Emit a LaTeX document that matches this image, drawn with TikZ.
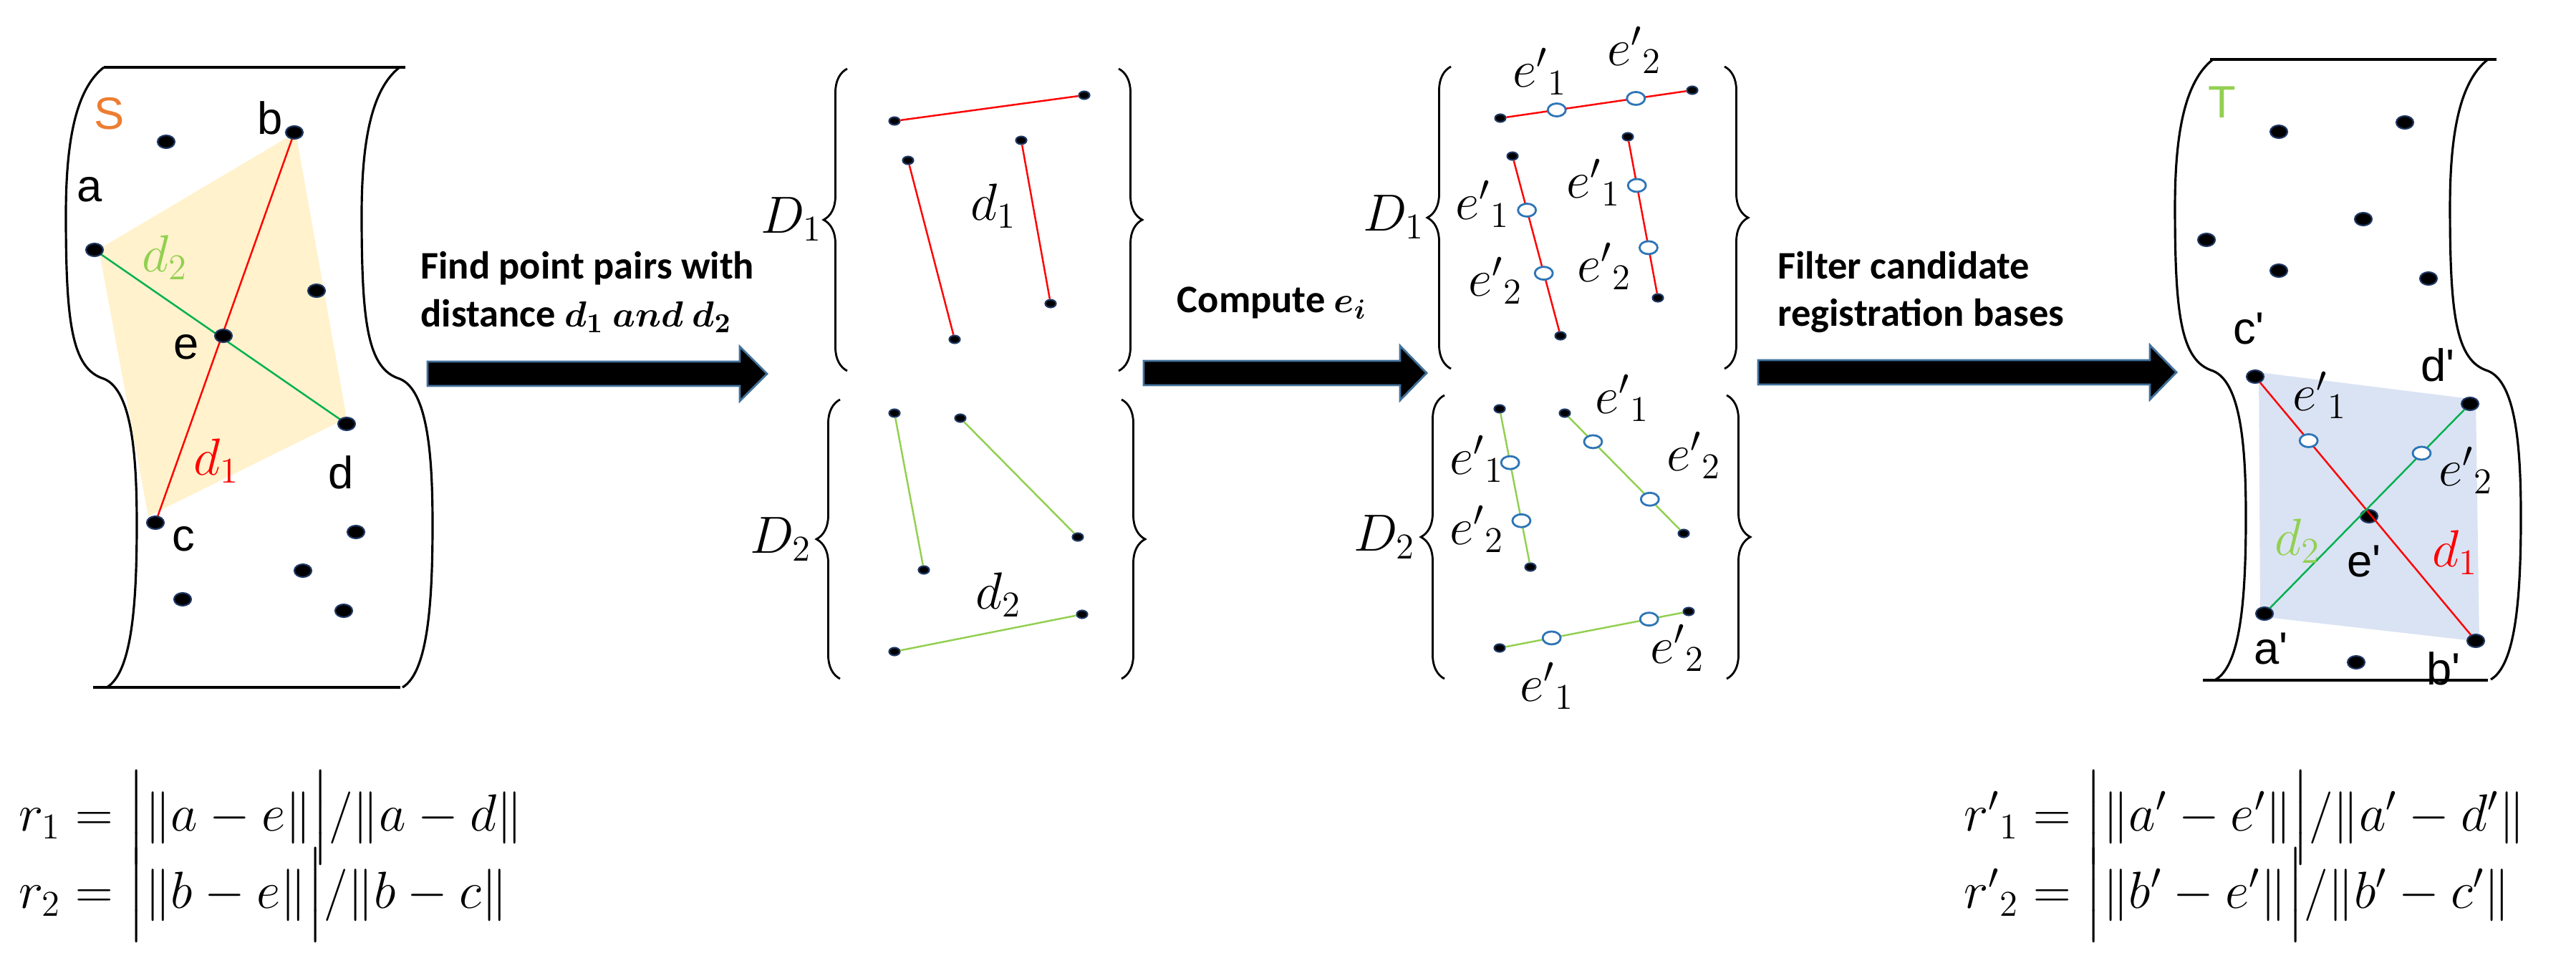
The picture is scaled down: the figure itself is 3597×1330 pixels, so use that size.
\documentclass[tikz,border=0pt]{standalone}
\usepackage{amsmath}
\usepackage{fontspec}
\setmainfont{Carlito}
\newfontfamily\lblfont{Liberation Sans}
\usetikzlibrary{shapes.geometric,decorations.pathreplacing,backgrounds}
\definecolor{dotblue}{RGB}{31,56,100}
\definecolor{ringblue}{RGB}{46,117,182}
\definecolor{arrowblue}{RGB}{65,113,156}
\definecolor{sfill}{RGB}{255,242,204}
\definecolor{tfill}{RGB}{218,227,243}
\definecolor{lgreen}{RGB}{146,208,80}
\definecolor{dgreen}{RGB}{0,176,80}
\definecolor{sorange}{RGB}{237,125,49}
\newcommand{\sheetedge}{(145,94) .. controls (105,125) and (92,200) .. (92,300) .. controls (92,450) and (100,515) .. (145,529) .. controls (185,545) and (191,640) .. (191,733) .. controls (191,850) and (183,940) .. (149,960)}
\newcommand{\fatarrow}[4]{\draw[fat] (#1,#4-17) -- (#2,#4-17) -- (#2,#4-38) -- (#3,#4) -- (#2,#4+38) -- (#2,#4+17) -- (#1,#4+17) -- cycle;}

\begin{document}
\begin{tikzpicture}[x=0.01cm,y=-0.01cm,
  pt/.style={ellipse,fill=black,draw=dotblue,line width=0.6pt,inner sep=0pt,minimum width=0.24cm,minimum height=0.18cm},
  spt/.style={pt,minimum width=0.15cm,minimum height=0.11cm},
  ring/.style={ellipse,fill=white,draw=ringblue,line width=0.8pt,inner sep=0pt,minimum width=0.25cm,minimum height=0.18cm},
  lbl/.style={font=\lblfont\fontsize{18}{18}\selectfont},
  mlbl/.style={font=\fontsize{21}{21}\selectfont},
  flbl/.style={font=\fontsize{20}{20}\selectfont},
  steptext/.style={font=\bfseries\fontsize{15.5}{19}\selectfont,align=left},
  fat/.style={fill=black,draw=arrowblue,line width=0.8pt},
  sheet/.style={line width=0.9pt},
  brc/.style={decorate,decoration={brace,amplitude=0.33cm},line width=0.8pt},
  redl/.style={red,line width=0.7pt},
  grnl/.style={lgreen,line width=0.7pt}]
\useasboundingbox (0,0) rectangle (3597,1330);
% source sheet S
\draw[sheet] (130,960) -- (559,960);
\draw[sheet] (145,94) -- (566,94);
\draw[sheet] \sheetedge;
\begin{scope}[shift={(413,0)}]
\draw[sheet] \sheetedge;
\end{scope}
\node (a) at (132,349) [pt] {};
\node (b) at (411,185) [pt] {};
\node (c) at (217,730) [pt] {};
\node (d) at (484,592) [pt] {};
\node (e) at (312,469) [pt] {};
\node (s1) at (232,198) [pt] {};
\node (s2) at (442,406) [pt] {};
\node (s3) at (497,743) [pt] {};
\node (s4) at (423,797) [pt] {};
\node (s5) at (255,837) [pt] {};
\node (s6) at (480,853) [pt] {};
\begin{scope}[on background layer]
\fill[sfill] (138,348) -- (413,185) -- (484,584) -- (207,721) -- cycle;
\draw[redl] (b.center) -- (c.center);
\draw[dgreen,line width=0.7pt] (a.center) -- (d.center);
\end{scope}
\node[lbl,sorange] at (153,159) {S};
\node[lbl] at (125,265) {a};
\node[lbl] at (377,165) {b};
\node[lbl] at (260,485) {e};
\node[lbl] at (476,660) {d};
\node[lbl] at (256,753) {c};
\node[mlbl,lgreen] at (230,360) {$d_2$};
\node[mlbl,red] at (302,644) {$d_1$};
%%
\fatarrow{597}{1033}{1071}{522}
\node[steptext,anchor=west] (find) at (575,408) {Find point pairs with\\distance $\boldsymbol{d_1}$ $\boldsymbol{and}$ $\boldsymbol{d_2}$};
%% pairs with distance d1 and d2
\draw[brc] (1183,518) -- (1183,96);
\draw[brc] (1562,96) -- (1562,518);
\draw[brc] (1173,948) -- (1173,558);
\draw[brc] (1566,558) -- (1566,948);
\node[mlbl] (D1) at (1105,306) {$D_1$};
\node[mlbl] (D2) at (1090,753) {$D_2$};
\node (p1) at (1249,169) [spt] {};
\node (q1) at (1514,133) [spt] {};
\node (p2) at (1268,224) [spt] {};
\node (q2) at (1333,474) [spt] {};
\node (p3) at (1426,196) [spt] {};
\node (q3) at (1467,424) [spt] {};
\node (p4) at (1249,577) [spt] {};
\node (q4) at (1290,796) [spt] {};
\node (p5) at (1341,584) [spt] {};
\node (q5) at (1505,750) [spt] {};
\node (p6) at (1249,910) [spt] {};
\node (q6) at (1511,858) [spt] {};
\draw[redl] (p1) -- (q1);
\draw[redl] (p2) -- (q2);
\draw[redl] (p3) -- (q3);
\draw[grnl] (p4) -- (q4);
\draw[grnl] (p5) -- (q5);
\draw[grnl] (p6) -- (q6);
\node[mlbl] at (1387,288) {$d_1$};
\node[mlbl] at (1394,831) {$d_2$};
%%
\fatarrow{1597}{1955}{1992}{521}
\node[steptext] (comp) at (1776,423) {Compute $\boldsymbol{e_i}$};
%% pairs with points e'
\draw[brc] (2026,515) -- (2026,93);
\draw[brc] (2408,93) -- (2408,515);
\draw[brc] (2017,948) -- (2017,552);
\draw[brc] (2411,552) -- (2411,948);
\node[mlbl] (E1) at (1946,303) {$D_1$};
\node[mlbl] (E2) at (1933,750) {$D_2$};
\node (u1) at (2095,165) [spt] {};
\node (v1) at (2363,126) [spt] {};
\node (u2) at (2112,218) [spt] {};
\node (v2) at (2179,469) [spt] {};
\node (u3) at (2273,191) [spt] {};
\node (v3) at (2315,416) [spt] {};
\node (u4) at (2094,571) [spt] {};
\node (v4) at (2137,792) [spt] {};
\node (u5) at (2185,577) [spt] {};
\node (v5) at (2351,745) [spt] {};
\node (u6) at (2094,905) [spt] {};
\node (v6) at (2358,854) [spt] {};
\draw[redl] (u1) -- (v1) node[ring,pos=0.28] {} node[ring,pos=0.72] {};
\draw[redl] (u2) -- (v2) node[ring,pos=0.29] {} node[ring,pos=0.66] {};
\draw[redl] (u3) -- (v3) node[ring,pos=0.29] {} node[ring,pos=0.70] {};
\draw[grnl] (u4) -- (v4) node[ring,pos=0.33] {} node[ring,pos=0.72] {};
\draw[grnl] (u5) -- (v5) node[ring,pos=0.22] {} node[ring,pos=0.73] {};
\draw[grnl] (u6) -- (v6) node[ring,pos=0.26] {} node[ring,pos=0.81] {};
\node[mlbl] at (2150,100) {${e'}_1$};
\node[mlbl] at (2282,70) {${e'}_2$};
\node[mlbl] at (2070,285) {${e'}_1$};
\node[mlbl] at (2088,392) {${e'}_2$};
\node[mlbl] at (2225,255) {${e'}_1$};
\node[mlbl] at (2240,372) {${e'}_2$};
\node[mlbl] at (2062,641) {${e'}_1$};
\node[mlbl] at (2062,739) {${e'}_2$};
\node[mlbl] at (2265,556) {${e'}_1$};
\node[mlbl] at (2365,636) {${e'}_2$};
\node[mlbl] at (2342,905) {${e'}_2$};
\node[mlbl] at (2160,958) {${e'}_1$};
%%
\fatarrow{2455}{3002}{3039}{520}
\node[steptext,anchor=west] (filt) at (2470,408) {Filter candidate\\registration bases};
%% target sheet T
\draw[sheet] (3076,950) -- (3474,950);
\draw[sheet] (3086,83) -- (3486,83);
\begin{scope}[shift={(2945,-11)}]
\draw[sheet] \sheetedge;
\end{scope}
\begin{scope}[shift={(3329,-11)}]
\draw[sheet] \sheetedge;
\end{scope}
\node (ta) at (3162,857) [pt] {};
\node (tb) at (3457,895) [pt] {};
\node (tc) at (3149,526) [pt] {};
\node (td) at (3449,564) [pt] {};
\node (te) at (3308,721) [pt] {};
\node (t1) at (3182,184) [pt] {};
\node (t2) at (3358,171) [pt] {};
\node (t3) at (3081,335) [pt] {};
\node (t4) at (3300,306) [pt] {};
\node (t5) at (3182,378) [pt] {};
\node (t6) at (3391,389) [pt] {};
\node (t7) at (3290,925) [pt] {};
\begin{scope}[on background layer]
\fill[tfill] (3154,520) -- (3457,558) -- (3462,896) -- (3156,861) -- cycle;
\end{scope}
\draw[redl] (tc) -- (tb) node[ring,pos=0.23] {};
\draw[dgreen,line width=0.7pt] (ta) -- (td) node[ring,pos=0.78] {};
\node[lbl,lgreen] at (3103,143) {T};
\node[lbl] at (3140,459) {c'};
\node[lbl] at (3404,510) {d'};
\node[lbl] at (3301,784) {e'};
\node[lbl] at (3171,906) {a'};
\node[lbl] at (3412,934) {b'};
\node[mlbl] at (3239,552) {${e'}_1$};
\node[mlbl] at (3443,657) {${e'}_2$};
\node[mlbl,lgreen] at (3208,756) {$d_2$};
\node[mlbl,red] at (3428,772) {$d_1$};
%% ratios
\node[flbl,anchor=west] (r1) at (14,1142) {$r_1=\Big|\|a-e\|\Big|/\|a-d\|$};
\node[flbl,anchor=west] (r2) at (14,1250) {$r_2=\Big|\|b-e\|\Big|/\|b-c\|$};
\node[flbl,anchor=west] (r3) at (2730,1142) {${r'}_1=\Big|\|a'-e'\|\Big|/\|a'-d'\|$};
\node[flbl,anchor=west] (r4) at (2730,1250) {${r'}_2=\Big|\|b'-e'\|\Big|/\|b'-c'\|$};
\end{tikzpicture}
\end{document}
